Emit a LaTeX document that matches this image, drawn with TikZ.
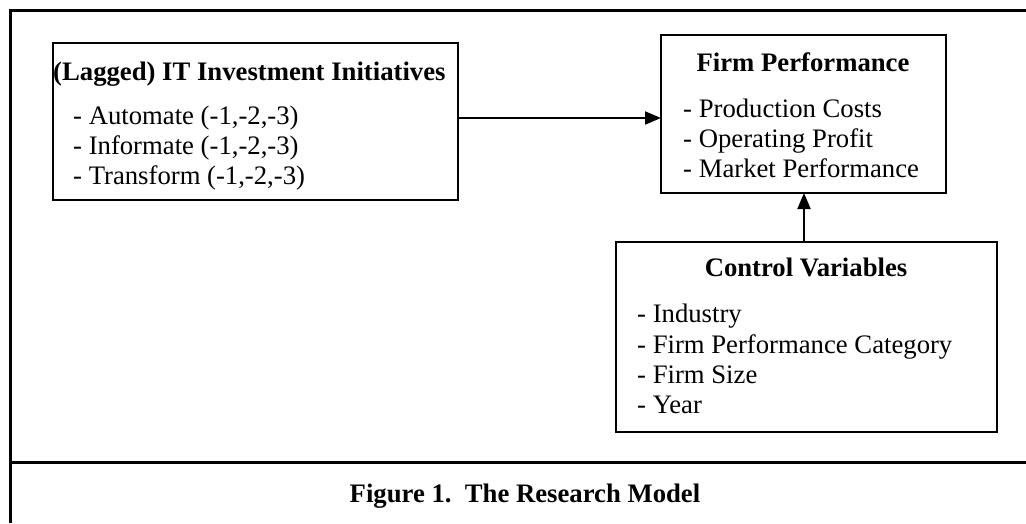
\documentclass[tikz,border=0pt]{standalone}
\usepackage{fontspec}
\setmainfont{Liberation Serif}
\usetikzlibrary{arrows.meta}

\tikzset{
  box/.style={draw=black, line width=2pt, inner sep=0pt, outer sep=0pt},
  frameline/.style={draw=black, line width=3pt},
  link/.style={draw=black, line width=2pt, -{Triangle[length=16pt,width=13pt]}},
  head/.style={font=\bfseries, inner sep=0pt, anchor=base},
  headl/.style={font=\bfseries, inner sep=0pt, anchor=base west},
  item/.style={inner sep=0pt, anchor=base west},
}

\begin{document}
\fontsize{26.7}{30.7}\selectfont
\begin{tikzpicture}[x=1pt, y=1pt]
  \useasboundingbox (0,0) rectangle (1026,-523);
  \fill[white] (0,0) rectangle (1026,-523);

  % outer frame and caption rule
  \coordinate (fbl) at (10,-523);
  \coordinate (ftl) at (10,-10);
  \coordinate (ftr) at (1026,-10);
  \coordinate (sl) at (10,-462);
  \coordinate (sr) at (1026,-462);
  \draw[frameline] (fbl) -- (ftl) -- (ftr);
  \draw[frameline] (sl) -- (sr);

  % boxes
  \node[box, minimum width=405pt, minimum height=157pt] (lbox) at (255.5,-121.5) {};
  \node[box, minimum width=285pt, minimum height=158pt] (fp) at (803.5,-114) {};
  \node[box, minimum width=381pt, minimum height=190pt] (cv) at (806.5,-337) {};

  % IT investment initiatives
  \node[headl] (lt) at (53,-80) {(Lagged) IT Investment Initiatives};
  \node[item] (l1) at (73,-124) {- Automate (-1,-2,-3)};
  \node[item] (l2) at (73,-154) {- Informate (-1,-2,-3)};
  \node[item] (l3) at (73,-184) {- Transform (-1,-2,-3)};

  % firm performance
  \node[head] (ft) at (803,-71) {Firm Performance};
  \node[item] (f1) at (683,-117) {- Production Costs};
  \node[item] (f2) at (683,-147) {- Operating Profit};
  \node[item] (f3) at (683,-177) {- Market Performance};

  % control variables
  \node[head] (ct) at (806,-276) {Control Variables};
  \node[item] (c1) at (637,-322) {- Industry};
  \node[item] (c2) at (637,-353) {- Firm Performance Category};
  \node[item] (c3) at (637,-383) {- Firm Size};
  \node[item] (c4) at (637,-413) {- Year};

  % connectors
  \coordinate (hy) at (0,-118);
  \coordinate (vx) at (804,0);
  \draw[link] (lbox.east |- hy) -- (fp.west |- hy);
  \draw[link] (cv.north -| vx) -- (fp.south -| vx);

  % caption
  \node[head] (cap) at (525,-502) {Figure 1.\hspace{0.5em}The Research Model};
\end{tikzpicture}
\end{document}
